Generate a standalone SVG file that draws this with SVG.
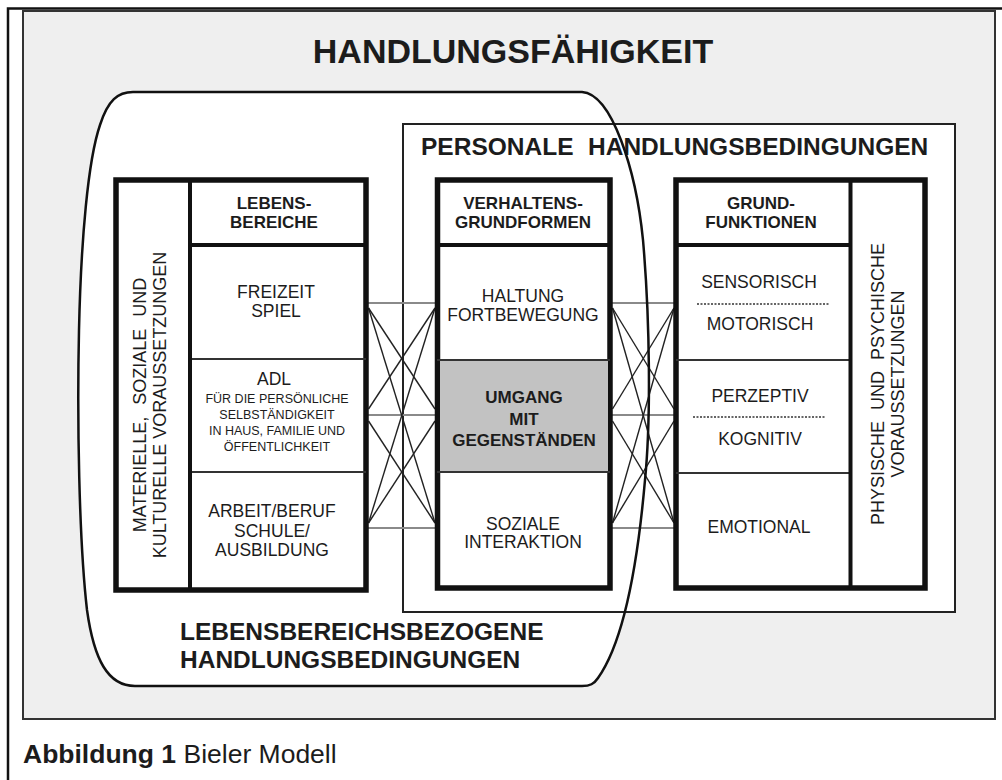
<svg xmlns="http://www.w3.org/2000/svg" width="1002" height="780" viewBox="0 0 1002 780">
<style>
text{font-family:"Liberation Sans",Arial,Helvetica,sans-serif;fill:#1c1c1c}
.c{text-anchor:middle}
.b{font-weight:bold}
.h{font-size:17px;font-weight:bold;text-anchor:middle}
.n{font-size:17.5px;text-anchor:middle}
.s{font-size:12.5px;text-anchor:middle}
.v{font-size:18px;text-anchor:middle}
.big{font-size:24.5px;font-weight:bold}
.box{fill:#fff;stroke:#111;stroke-width:5.5}
.div{stroke:#111;stroke-width:4;fill:none}
.row{stroke:#333;stroke-width:2.2;fill:none}
.hz{stroke:#8a8a8a;stroke-width:2;fill:none}
.dg{stroke:#222;stroke-width:1.4;fill:none}
.dot{stroke:#333;stroke-width:1.6;stroke-dasharray:2 1.5;fill:none}
</style>
<defs>
<path id="lb-shape" d="M133,92 L582,92 C612,94 636,170 643,240 C650,320 651,420 645,480 C638,560 625,640 598,678 C594,684 590,686 582,686 L135,686 C108,686 94,660 87,610 C79,540 77,420 79,330 C81,240 88,160 100,125 C108,100 118,92 133,92 Z"/>
</defs>
<rect x="0" y="0" width="1002" height="780" fill="#fff"/>
<!-- figure frame -->
<path d="M8,780 L8,8.5 L1002,8.5" fill="none" stroke="#111" stroke-width="2.5"/>
<!-- gray panel -->
<rect x="23" y="11" width="972" height="708" fill="#efefef" stroke="#333" stroke-width="2"/>
<text x="513" y="63" class="c b" font-size="34">HANDLUNGSFÄHIGKEIT</text>

<!-- region fills -->
<g id="region-lebensbereich-fill">
<use href="#lb-shape" fill="#fff"/>
</g>
<g id="region-personale">
<rect x="403" y="124" width="552" height="488" fill="#fff" stroke="#222" stroke-width="2"/>
<text x="421" y="155" class="big">PERSONALE</text>
<text x="588" y="155" class="big">HANDLUNGSBEDINGUNGEN</text>
</g>

<!-- connectors -->
<g id="connectors">
<g id="conn-left">
<line class="hz" x1="368" y1="303" x2="435" y2="303"/>
<line class="hz" x1="368" y1="415" x2="435" y2="415"/>
<line class="hz" x1="368" y1="528" x2="435" y2="528"/>
<line class="dg" x1="368.5" y1="308" x2="435" y2="409"/>
<line class="dg" x1="368.5" y1="308" x2="435" y2="523"/>
<line class="dg" x1="368.5" y1="409" x2="435" y2="308"/>
<line class="dg" x1="368.5" y1="421" x2="435" y2="523"/>
<line class="dg" x1="368.5" y1="523" x2="435" y2="308"/>
<line class="dg" x1="368.5" y1="523" x2="435" y2="421"/>
</g>
<g id="conn-right">
<line class="hz" x1="612" y1="303" x2="674" y2="303"/>
<line class="hz" x1="612" y1="415" x2="674" y2="415"/>
<line class="hz" x1="612" y1="528" x2="674" y2="528"/>
<line class="dg" x1="612.5" y1="308" x2="674" y2="409"/>
<line class="dg" x1="612.5" y1="308" x2="674" y2="523"/>
<line class="dg" x1="612.5" y1="409" x2="674" y2="308"/>
<line class="dg" x1="612.5" y1="421" x2="674" y2="523"/>
<line class="dg" x1="612.5" y1="523" x2="674" y2="308"/>
<line class="dg" x1="612.5" y1="523" x2="674" y2="421"/>
</g>
</g>

<!-- left box -->
<g id="node-lebensbereiche">
<rect class="box" x="116" y="180" width="250" height="410"/>
<line class="row" x1="190" y1="359" x2="366" y2="359"/>
<line class="row" x1="190" y1="472" x2="366" y2="472"/>
<line class="div" x1="190" y1="180" x2="190" y2="590"/>
<line class="div" x1="190" y1="245" x2="366" y2="245"/>
<text class="h" x="274" y="209">LEBENS-</text>
<text class="h" x="274" y="228">BEREICHE</text>
<text class="n" x="276" y="298">FREIZEIT</text>
<text class="n" x="276" y="317">SPIEL</text>
<text class="n" x="274" y="385">ADL</text>
<text class="s" x="277" y="403">FÜR DIE PERSÖNLICHE</text>
<text class="s" x="277" y="419">SELBSTÄNDIGKEIT</text>
<text class="s" x="277" y="435">IN HAUS, FAMILIE UND</text>
<text class="s" x="277" y="451">ÖFFENTLICHKEIT</text>
<text class="n" x="272" y="517">ARBEIT/BERUF</text>
<text class="n" x="272" y="537">SCHULE/</text>
<text class="n" x="272" y="556">AUSBILDUNG</text>
<text class="v" transform="translate(146,405) rotate(-90)" word-spacing="7">MATERIELLE, SOZIALE UND</text>
<text class="v" transform="translate(166,405) rotate(-90)">KULTURELLE VORAUSSETZUNGEN</text>
</g>

<!-- middle box -->
<g id="node-verhaltensgrundformen">
<rect class="box" x="437.5" y="180" width="172.5" height="408"/>
<rect x="440" y="360" width="168" height="112" fill="#c2c2c2"/>
<line class="row" x1="437" y1="360" x2="610" y2="360"/>
<line class="row" x1="437" y1="472" x2="610" y2="472"/>
<line class="div" x1="437" y1="245" x2="610" y2="245"/>
<text class="h" x="523" y="209">VERHALTENS-</text>
<text class="h" x="523" y="228">GRUNDFORMEN</text>
<text class="n" x="523" y="302">HALTUNG</text>
<text class="n" x="523" y="321">FORTBEWEGUNG</text>
<text class="h" x="524" y="403">UMGANG</text>
<text class="h" x="524" y="425">MIT</text>
<text class="h" x="524" y="446">GEGENSTÄNDEN</text>
<text class="n" x="523" y="530">SOZIALE</text>
<text class="n" x="523" y="548">INTERAKTION</text>
</g>

<!-- right box -->
<g id="node-grundfunktionen">
<rect class="box" x="676" y="180" width="249" height="408"/>
<line class="row" x1="676" y1="360" x2="851" y2="360"/>
<line class="row" x1="676" y1="473" x2="851" y2="473"/>
<line class="div" x1="850.5" y1="180" x2="850.5" y2="588"/>
<line class="div" x1="676" y1="245" x2="851" y2="245"/>
<line class="dot" x1="697" y1="304" x2="829" y2="304"/>
<line class="dot" x1="693" y1="417" x2="826" y2="417"/>
<text class="h" x="761" y="209">GRUND-</text>
<text class="h" x="761" y="228">FUNKTIONEN</text>
<text class="n" x="759" y="288">SENSORISCH</text>
<text class="n" x="760" y="330">MOTORISCH</text>
<text class="n" x="760" y="402">PERZEPTIV</text>
<text class="n" x="760" y="445">KOGNITIV</text>
<text class="n" x="759" y="533">EMOTIONAL</text>
<text class="v" transform="translate(884,384) rotate(-90)" word-spacing="6">PHYSISCHE UND PSYCHISCHE</text>
<text class="v" transform="translate(904,384) rotate(-90)">VORAUSSETZUNGEN</text>
</g>

<!-- region strokes -->
<g id="region-lebensbereich">
<use href="#lb-shape" fill="none" stroke="#111" stroke-width="2.5"/>
<text x="180" y="640" class="big">LEBENSBEREICHSBEZOGENE</text>
<text x="180" y="668" class="big">HANDLUNGSBEDINGUNGEN</text>
</g>

<text x="23" y="763" font-size="26.5"><tspan font-weight="bold">Abbildung 1</tspan> Bieler Modell</text>
</svg>
